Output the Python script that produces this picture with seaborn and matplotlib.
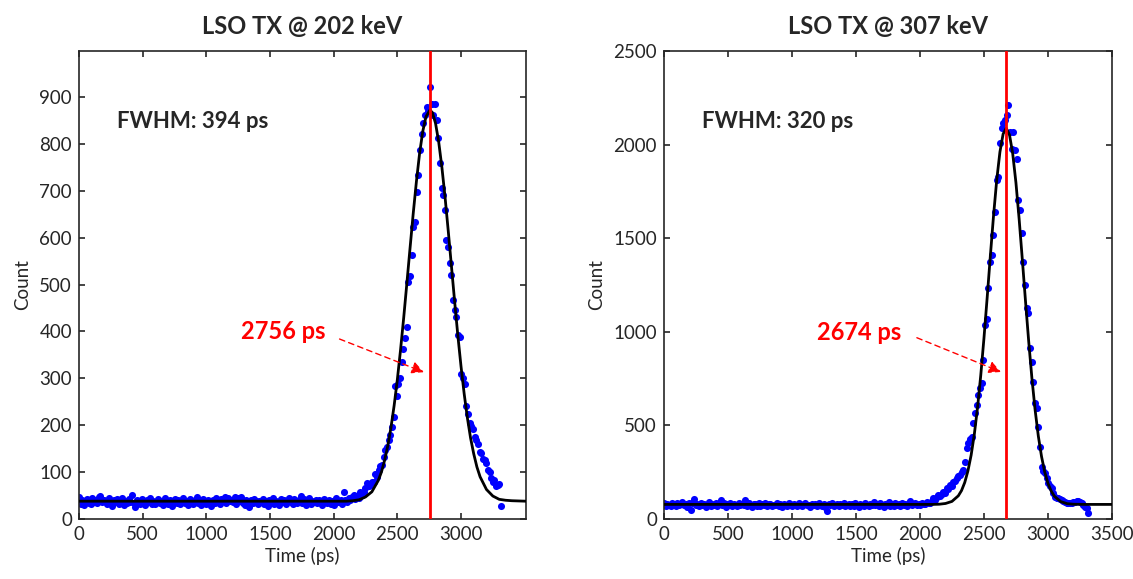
import numpy as np
import pandas as pd
import matplotlib
matplotlib.use('Agg')
import matplotlib.pyplot as plt
import seaborn as sns

# ---- data ----
bin_width = 13  # ps per histogram bin

# LSO TX @ 202 keV, counts per bin (bin 0 starts at 0 ps)
counts_202 = [
    46, 33, 40, 29, 38, 42, 35, 31, 44, 37, 40, 34, 47, 50, 36, 41,
    39, 31, 44, 36, 28, 40, 37, 43, 33, 38, 45, 30, 39, 35, 42, 36,
    51, 34, 26, 40, 37, 32, 43, 38, 29, 41, 36, 44, 33, 39, 31, 37,
    42, 35, 38, 30, 45, 36, 33, 40, 27, 38, 43, 35, 41, 32, 37, 44,
    34, 39, 29, 42, 37, 31, 40, 46, 35, 38, 30, 43, 36, 33, 41, 38,
    28, 40, 35, 44, 37, 32, 42, 39, 47, 34, 45, 38, 41, 36, 48, 33,
    44, 39, 46, 35, 30, 41, 37, 26, 40, 34, 43, 38, 31, 39, 36, 42,
    33, 38, 27, 41, 36, 44, 31, 39, 35, 29, 42, 37, 40, 33, 38, 45,
    36, 31, 43, 38, 34, 40, 49, 35, 42, 30, 38, 44, 33, 39, 36, 41,
    34, 40, 37, 29, 43, 38, 35, 41, 32, 39, 30, 44, 37, 36, 41,
    32, 58, 40, 37, 45, 40, 47, 51, 43, 49,
    44, 57, 52, 58, 66, 76, 70, 72, 78, 80,
    95, 90, 104, 112, 115, 133, 147, 154, 168, 179,
    197, 218, 284, 262, 288, 300, 335, 362, 385, 410,
    505, 519, 563, 623, 634, 697, 733, 787, 822, 845,
    861, 879, 870, 922, 885, 861, 884, 850, 812, 760,
    705, 690, 659, 596, 581, 546, 520, 467, 446, 430,
    392, 389, 309, 300, 288, 240, 225, 204, 198, 193,
    175, 168, 161, 143, 140, 129, 125, 119, 104, 100,
    87, 80, 83, 70, 72, 75, 28,
]

# LSO TX @ 307 keV
counts_307 = [
    88, 72, 80, 76, 68, 84, 79, 70, 86, 75, 81, 92, 73, 78, 66, 83,
    48, 85, 107, 74, 79, 70, 88, 76, 82, 63, 77, 90, 71, 80, 74, 86,
    69, 78, 100, 73, 84, 62, 79, 75, 88, 71, 82, 76, 67, 85, 73, 80,
    77, 100, 70, 83, 74, 65, 81, 78, 72, 86, 69, 80, 75, 84, 71, 79,
    82, 68, 76, 73, 87, 70, 79, 64, 81, 75, 72, 85, 78, 69, 80, 74,
    71, 83, 76, 68, 79, 86, 73, 77, 62, 81, 74, 78, 70, 84, 75, 72,
    80, 66, 43, 78, 73, 85, 70, 76, 82, 69, 79, 74, 88, 67, 77, 81,
    72, 79, 68, 84, 75, 63, 80, 77, 71, 86, 74, 69, 82, 76, 90, 73,
    78, 70, 85, 74, 66, 81, 77, 92, 72, 79, 68, 83, 75, 80, 71, 87,
    76, 82, 70, 84, 98, 73, 79, 88, 74, 81, 77, 85, 80, 78, 90, 84,
    88, 96, 110, 104, 118, 128, 122, 135, 146, 140,
    164, 158, 182, 176, 199, 205, 217, 228, 235, 250,
    262, 306, 378, 404, 425, 440, 511, 565, 610, 660,
    698, 725, 849, 1036, 1067, 1232, 1374, 1410, 1517, 1642,
    1811, 1829, 2007, 2090, 2114, 2131, 2158, 2212, 2069, 1975,
    2069, 1971, 1921, 1704, 1651, 1526, 1374, 1250, 1126, 1099,
    912, 840, 733, 618, 591, 493, 386, 279, 255, 244,
    217, 191, 175, 164, 137, 119, 114, 110, 105, 101,
    95, 90, 87, 85, 83, 84, 90, 93, 98, 94,
    92, 86, 75, 66, 57, 34,
]

# fitted curves (black line), read at these times
fit_t_202 = [0, 1500, 2000, 2100, 2150, 2200, 2250, 2300, 2350, 2375, 2400, 2425,
             2450, 2475, 2500, 2525, 2550, 2575, 2600, 2625, 2650, 2675, 2700,
             2725, 2756, 2775, 2800, 2825, 2850, 2875, 2900, 2925, 2950, 2975,
             3000, 3025, 3050, 3075, 3100, 3125, 3150, 3200, 3250, 3300, 3350,
             3400, 3510]
fit_c_202 = [38, 38, 38, 38, 39, 41, 47, 58, 82, 100, 125, 156,
             195, 242, 297, 360, 429, 503, 578, 652, 720, 780, 827,
             858, 872, 867, 844, 804, 750, 686, 614, 539, 464, 392,
             326, 267, 216, 173, 139, 111, 90, 63, 49, 42, 40,
             39, 38]

fit_t_307 = [0, 1500, 2000, 2100, 2150, 2200, 2250, 2300, 2325, 2350, 2375, 2400,
             2425, 2450, 2475, 2500, 2525, 2550, 2575, 2600, 2625, 2650, 2674,
             2700, 2725, 2750, 2775, 2800, 2825, 2850, 2875, 2900, 2925, 2950,
             2975, 3000, 3025, 3050, 3100, 3150, 3200, 3300, 3500]
fit_c_307 = [78, 78, 78, 78, 79, 83, 94, 124, 152, 195, 257, 341,
             453, 595, 766, 964, 1180, 1404, 1620, 1811, 1961, 2057, 2088,
             2052, 1951, 1797, 1603, 1386, 1162, 947, 751, 582, 443, 334,
             251, 191, 150, 122, 93, 82, 79, 78, 78]

titles = ['LSO TX @ 202 keV', 'LSO TX @ 307 keV']
peaks = [2756, 2674]   # ps
fwhms = [394, 320]     # ps

# ---- drawing ----
sns.set_theme(style='ticks')
plt.rcParams['font.family'] = ['Lato', 'DejaVu Sans']
plt.rcParams['axes.edgecolor'] = '#262626'
plt.rcParams['axes.linewidth'] = 1.2

fig = plt.figure(figsize=(11.33, 5.79), dpi=100)
ax1 = fig.add_axes([0.0697, 0.1036, 0.3945, 0.8083])
ax2 = fig.add_axes([0.586, 0.1036, 0.3954, 0.8083])


def draw_panel(ax, counts, fit_t, fit_c, title, peak, fwhm,
               xlim, xticks, ylim, yticks, label_xy, arrow_from, arrow_to):
    df = pd.DataFrame({'time': np.arange(len(counts)) * bin_width, 'count': counts})
    sns.scatterplot(data=df, x='time', y='count', ax=ax, color='blue',
                    s=26, linewidth=0, zorder=2)
    sns.lineplot(x=fit_t, y=fit_c, ax=ax, color='black', lw=2, zorder=3)
    ax.axvline(peak, color='red', lw=2, zorder=4)

    ax.set_xlim(xlim)
    ax.set_ylim(ylim)
    ax.set_xticks(xticks)
    ax.set_yticks(yticks)
    ax.tick_params(direction='in', top=True, right=True, length=4, width=1.2,
                   labelsize=13.5, colors='#262626', pad=5)
    ax.tick_params(labeltop=False, labelright=False)
    ax.set_xlabel('Time (ps)', fontsize=13.5, color='#262626', labelpad=3)
    ax.set_ylabel('Count', fontsize=13.5, color='#262626', labelpad=6)
    ax.set_title(title, fontsize=17, fontweight='bold', pad=12)

    ax.text(0.085, 0.85, 'FWHM: %d ps' % fwhm, transform=ax.transAxes,
            fontsize=16, fontweight='bold', ha='left', va='center')
    ax.text(label_xy[0], label_xy[1], '%d ps' % peak, color='red',
            fontsize=17, fontweight='bold', ha='center', va='center')
    ax.annotate('', xy=arrow_to, xytext=arrow_from,
                arrowprops=dict(arrowstyle='-|>', color='red', lw=1,
                                linestyle=(0, (4, 3)), mutation_scale=18))


draw_panel(ax1, counts_202, fit_t_202, fit_c_202, titles[0], peaks[0], fwhms[0],
           (0, 3510), range(0, 3001, 500), (0, 998), range(0, 901, 100),
           (1607, 399), (2026, 386), (2729, 311))
draw_panel(ax2, counts_307, fit_t_307, fit_c_307, titles[1], peaks[1], fwhms[1],
           (0, 3500), range(0, 3501, 500), (0, 2500), range(0, 2501, 500),
           (1524, 994), (1956, 974), (2653, 780))

plt.savefig('out.png', dpi=100)
